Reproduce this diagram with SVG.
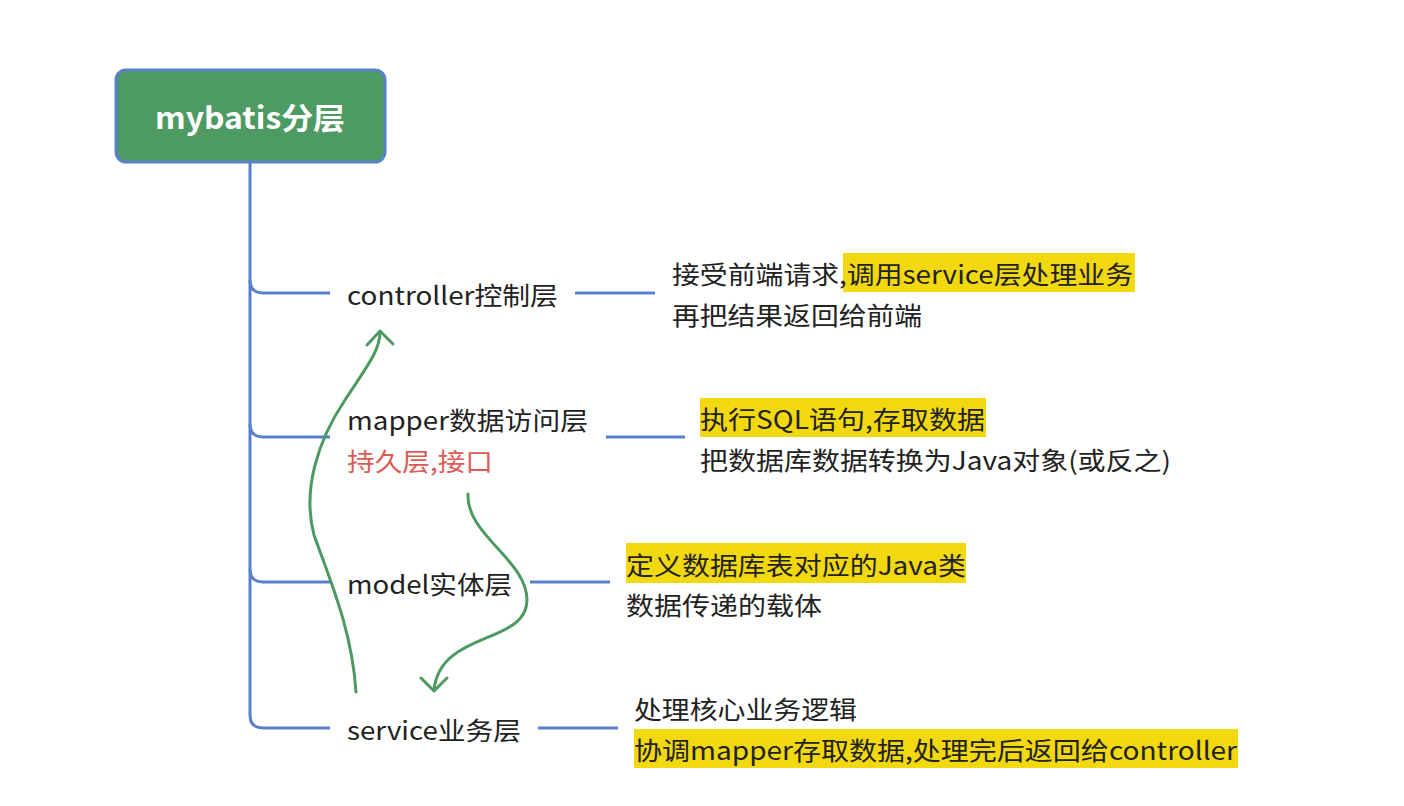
<svg xmlns="http://www.w3.org/2000/svg" width="1404" height="806" viewBox="0 0 1404 806">
<defs>
<style>
.t{font-family:"Noto Sans CJK SC","Noto Sans",sans-serif;font-size:25px;fill:#222}
.red{fill:#dd5a57}
.root{font-family:"Noto Sans CJK SC","Noto Sans",sans-serif;font-size:30px;font-weight:bold;fill:#fff}
.b{fill:none;stroke:#5a80cc;stroke-width:3;stroke-linecap:butt}
.g{fill:none;stroke:#4c9a62;stroke-width:3;stroke-linecap:round;stroke-linejoin:round}
.hl{fill:#f1d80f}
</style>
</defs>
<rect width="1404" height="806" fill="#fff"/>
<g id="connectors">
<path class="b" d="M250,162 V280 Q250,293 263,293 H330"/>
<path class="b" d="M250,280 V424 Q250,437 263,437 H330"/>
<path class="b" d="M250,424 V569 Q250,582 263,582 H330"/>
<path class="b" d="M250,569 V715 Q250,728 263,728 H330"/>
<path class="b" d="M575,293 H655"/>
<path class="b" d="M606,437 H685"/>
<path class="b" d="M530,582 H610"/>
<path class="b" d="M538,728 H618"/>
<path class="g" d="M356,692 C352,630 330,580 314,535 C302,490 318,440 345,400 C368,365 380,350 380,332"/>
<path class="g" d="M367,345 L380,331 L393,344"/>
<path class="g" d="M468,494 C466,535 527,560 527,600 C527,645 440,630 434,690"/>
<path class="g" d="M421,678 L434,691 L447,678"/>
</g>
<g id="root">
<rect x="116" y="70" width="269" height="92" rx="10" fill="#4e9a63" stroke="#5a80cc" stroke-width="3"/>
<text class="root" x="155" y="129" textLength="190" lengthAdjust="spacingAndGlyphs">mybatis分层</text>
</g>
<g id="controller">
<text class="t" x="347" y="305" textLength="211" lengthAdjust="spacingAndGlyphs">controller控制层</text>
</g>
<g id="controller-desc">
<rect class="hl" x="843" y="253" width="292" height="39"/>
<text class="t" x="672" y="284" textLength="461" lengthAdjust="spacingAndGlyphs">接受前端请求,调用service层处理业务</text>
<text class="t" x="672" y="325" textLength="250" lengthAdjust="spacingAndGlyphs">再把结果返回给前端</text>
</g>
<g id="mapper">
<text class="t" x="347" y="430" textLength="241" lengthAdjust="spacingAndGlyphs">mapper数据访问层</text>
<text class="t red" x="347" y="471" textLength="146" lengthAdjust="spacingAndGlyphs">持久层,接口</text>
</g>
<g id="mapper-desc">
<rect class="hl" x="700" y="398" width="286" height="39"/>
<text class="t" x="700" y="429" textLength="285" lengthAdjust="spacingAndGlyphs">执行SQL语句,存取数据</text>
<text class="t" x="700" y="470" textLength="471" lengthAdjust="spacingAndGlyphs">把数据库数据转换为Java对象(或反之)</text>
</g>
<g id="model">
<text class="t" x="347" y="594" textLength="165" lengthAdjust="spacingAndGlyphs">model实体层</text>
</g>
<g id="model-desc">
<rect class="hl" x="626" y="543" width="340" height="40"/>
<text class="t" x="626" y="575" textLength="340" lengthAdjust="spacingAndGlyphs">定义数据库表对应的Java类</text>
<text class="t" x="626" y="615" textLength="196" lengthAdjust="spacingAndGlyphs">数据传递的载体</text>
</g>
<g id="service">
<text class="t" x="347" y="740" textLength="174" lengthAdjust="spacingAndGlyphs">service业务层</text>
</g>
<g id="service-desc">
<rect class="hl" x="634" y="729" width="604" height="39"/>
<text class="t" x="634" y="719" textLength="223" lengthAdjust="spacingAndGlyphs">处理核心业务逻辑</text>
<text class="t" x="634" y="760" textLength="603" lengthAdjust="spacingAndGlyphs">协调mapper存取数据,处理完后返回给controller</text>
</g>
</svg>
